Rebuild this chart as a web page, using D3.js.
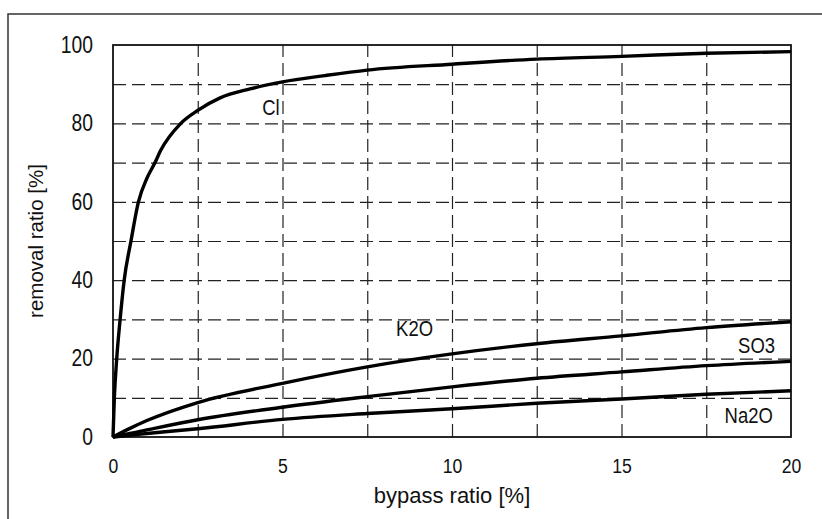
<!DOCTYPE html>
<html>
<head>
<meta charset="utf-8">
<script src="https://cdn.jsdelivr.net/npm/d3@7"></script>
<style>
    body { margin: 0; background: #fff; }
    text { font-family: "Liberation Sans", Arial, sans-serif; fill: #111; }
</style>
</head>
<body>
<div id="chart"></div>
<script>
// curve data
var bypassCl = [0, 0.04, 0.11, 0.21, 0.33, 0.53, 0.75, 1.0, 1.24, 1.4, 2.0, 2.5, 3.16, 4.04, 5, 6.25, 7.5, 10, 12.5, 15, 17.5, 20];
var removalCl = [0, 10, 20, 30, 40, 50, 60, 66, 70, 73, 80, 83.3, 86.5, 88.8, 90.6, 92.2, 93.6, 95.1, 96.4, 97.1, 97.9, 98.3];

var bypassOther = [0, 0.5, 1, 2.5, 5, 7.5, 10, 12.5, 15, 17.5, 20];
var removalK2O = [0, 2.2, 4.2, 8.8, 13.7, 17.9, 21.2, 23.8, 25.8, 27.9, 29.4];
var removalSO3 = [0, 0.9, 1.8, 4.4, 7.6, 10.3, 12.8, 15.0, 16.6, 18.2, 19.3];
var removalNa2O = [0, 0.45, 0.9, 2.1, 4.5, 6.0, 7.2, 8.6, 9.7, 10.9, 11.8];

var xGrid = [2.5, 5, 7.5, 10, 12.5, 15, 17.5];
var yGrid = [10, 20, 30, 40, 50, 60, 70, 80, 90];
var xTicks = [0, 5, 10, 15, 20];
var yTicks = [0, 20, 40, 60, 80, 100];

// label for each curve, anchored at a data point
var seriesLabels = [
    { text: "Cl", at: [4.4, 82.2] },
    { text: "K2O", at: [8.35, 25.8] },
    { text: "SO3", at: [18.44, 21.4] },
    { text: "Na2O", at: [18.04, 3.6] }
];

function init() {
    var W = 822, H = 519;
    var left = 113, right = 791, top = 45, bottom = 437;
    var squeeze = 0.84;

    var svg = d3.select("#chart").append("svg")
        .attr("width", W)
        .attr("height", H);

    var xScale = d3.scaleLinear().domain([0, 20]).range([left, right]);
    var yScale = d3.scaleLinear().domain([0, 100]).range([bottom, top]);

    // outer frame of the scanned figure
    svg.append("path")
        .attr("d", "M8," + H + "V14H" + W)
        .attr("fill", "none")
        .attr("stroke", "#333")
        .attr("stroke-width", 1.5);

    // dashed grid
    var gx = svg.append("g")
        .attr("transform", "translate(0," + bottom + ")")
        .call(d3.axisBottom(xScale).tickValues(xGrid).tickSize(-(bottom - top)).tickFormat(""));
    var gy = svg.append("g")
        .attr("transform", "translate(" + left + ",0)")
        .call(d3.axisLeft(yScale).tickValues(yGrid).tickSize(-(right - left)).tickFormat(""));
    [gx, gy].forEach(function (g) {
        g.select(".domain").remove();
        g.selectAll("line")
            .attr("stroke", "#222")
            .attr("stroke-width", 1.2)
            .attr("stroke-dasharray", "13,6");
    });

    // tick labels
    var ax = svg.append("g")
        .attr("transform", "translate(0," + bottom + ")")
        .call(d3.axisBottom(xScale).tickValues(xTicks).tickSize(0).tickPadding(21));
    ax.select(".domain").remove();
    ax.selectAll("text")
        .style("font-size", "21px")
        .attr("transform", "scale(" + squeeze + ",1)");

    var ay = svg.append("g")
        .attr("transform", "translate(" + left + ",0)")
        .call(d3.axisLeft(yScale).tickValues(yTicks).tickSize(0));
    ay.select(".domain").remove();
    ay.selectAll("text")
        .style("font-size", "23px")
        .attr("x", -20 / squeeze)
        .attr("transform", "scale(" + squeeze + ",1)");

    // plot box
    svg.append("rect")
        .attr("x", left)
        .attr("y", top)
        .attr("width", right - left)
        .attr("height", bottom - top)
        .attr("fill", "none")
        .attr("stroke", "#111")
        .attr("stroke-width", 1.8);

    // curves
    var curves = [
        { xs: bypassCl, ys: removalCl },
        { xs: bypassOther, ys: removalK2O },
        { xs: bypassOther, ys: removalSO3 },
        { xs: bypassOther, ys: removalNa2O }
    ];
    var line = d3.line()
        .x(function (d) { return xScale(d[0]); })
        .y(function (d) { return yScale(d[1]); })
        .curve(d3.curveMonotoneX);
    curves.forEach(function (c) {
        svg.append("path")
            .datum(d3.zip(c.xs, c.ys))
            .attr("d", line)
            .attr("fill", "none")
            .attr("stroke", "#000")
            .attr("stroke-width", 3.4)
            .attr("stroke-linejoin", "round");
    });

    // curve labels
    seriesLabels.forEach(function (d) {
        svg.append("text")
            .attr("transform", "translate(" + xScale(d.at[0]) + "," + yScale(d.at[1]) + ") scale(" + squeeze + ",1)")
            .style("font-size", "22px")
            .text(d.text);
    });

    // axis titles
    svg.append("text")
        .attr("x", (left + right) / 2)
        .attr("y", 503)
        .attr("text-anchor", "middle")
        .style("font-size", "22px")
        .text("bypass ratio [%]");

    svg.append("text")
        .attr("transform", "translate(43," + (top + bottom) / 2 + ") rotate(-90)")
        .attr("text-anchor", "middle")
        .style("font-size", "20.5px")
        .text("removal ratio [%]");
}

window.onload = init;
</script>
</body>
</html>
